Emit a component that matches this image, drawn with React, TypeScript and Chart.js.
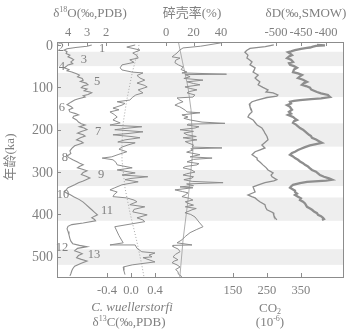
import React, { useEffect, useRef } from 'react';
import { Chart, registerables } from 'chart.js';
Chart.register(...registerables);

// [age ka, benthic δ18O ‰]
const d18O: [number, number][] = [
  [0,2.75],[3,3.0],[6,3.6],[9,4.05],[12,4.2],[16,4.05],[20,4.1],[24,3.9],[28,4.0],[32,3.8],[35,3.7],[40,3.85],[44,3.75],[47,4.0],[51,4.1],[54,4.2],[58,3.95],[61,4.05],[64,3.8],[68,3.55],[71,3.4],[75,3.5],[79,3.25],[83,3.2],[86,3.35],[90,3.05],[94,2.95],[97,3.2],[101,3.3],[104,3.0],[108,3.15],[111,2.85],[113,2.75],[117,2.95],[120,3.2],[123,3.1],[127,3.45],[130,3.65],[135,3.85],[141,4.05],[145,3.85],[149,3.75],[153,3.95],[158,3.9],[162,3.6],[165,3.45],[168,3.7],[172,3.75],[177,3.55],[182,3.45],[186,3.3],[189,3.1],[193,3.4],[196,3.15],[200,3.0],[204,3.3],[208,3.5],[212,3.2],[215,3.1],[219,3.35],[224,3.55],[228,3.3],[231,3.2],[235,3.45],[238,3.65],[244,3.8],[250,3.9],[256,3.85],[262,4.05],[266,3.95],[271,3.75],[276,3.5],[280,3.35],[283,3.2],[287,3.4],[290,3.5],[294,3.2],[297,3.0],[301,3.2],[306,3.3],[310,3.05],[314,2.85],[318,3.05],[321,3.2],[325,3.45],[330,3.65],[334,3.85],[337,4.0],[342,4.1],[346,4.2],[350,4.05],[353,3.9],[358,3.7],[365,3.4],[371,3.2],[377,3.05],[383,2.9],[389,2.75],[395,2.6],[401,2.45],[404,2.6],[408,2.75],[412,2.6],[415,2.55],[420,3.2],[424,3.8],[428,4.0],[434,4.05],[440,4.0],[448,3.95],[457,3.9],[463,3.85],[469,3.75],[473,3.4],[476,3.0],[480,3.5],[486,3.65],[490,3.4],[493,3.25],[497,3.45],[502,3.55],[506,3.3],[510,3.0],[515,3.3],[522,3.65],[528,3.75],[533,3.8],[540,3.85],[545,3.9]
];

// [age ka, C. wuellerstorfi δ13C ‰]
const d13C: [number, number][] = [
  [0,0.07],[5,-0.07],[12,0.15],[19,0.03],[25,0.1],[31,0.12],[35,-0.02],[41,0.05],[47,-0.15],[54,-0.18],[59,-0.15],[64,0.02],[66,0.2],[72,0.1],[78,0.15],[83,0.23],[90,0.1],[95,0.22],[99,0.27],[106,0.12],[113,0.2],[118,0.08],[123,0.03],[130,-0.02],[134,-0.23],[138,-0.1],[142,-0.15],[149,-0.3],[153,-0.2],[158,-0.35],[164,-0.28],[170,-0.23],[177,-0.3],[184,-0.18],[189,-0.35],[193,0.18],[197,-0.1],[200,-0.27],[205,0.2],[209,-0.05],[212,-0.3],[216,0.0],[219,0.15],[224,-0.1],[229,-0.22],[231,0.07],[236,-0.05],[241,-0.15],[246,-0.2],[252,-0.07],[258,-0.2],[264,-0.32],[267,-0.48],[271,-0.3],[277,-0.25],[283,-0.23],[290,0.02],[295,-0.23],[302,0.07],[307,-0.15],[311,0.28],[315,0.0],[318,-0.1],[323,0.12],[330,-0.15],[337,-0.27],[342,-0.35],[347,-0.23],[353,-0.28],[358,-0.3],[361,-0.07],[366,0.05],[370,0.1],[377,-0.02],[382,0.23],[388,0.05],[394,0.03],[401,0.27],[408,0.1],[413,0.2],[417,0.23],[429,-0.27],[450,-0.2],[467,-0.13],[472,-0.35],[472,0.07],[480,0.1],[488,0.18],[491,0.4],[496,0.3],[500,0.35],[502,0.2],[507,0.3],[512,0.4],[519,0.02],[524,-0.13],[532,-0.12],[542,-0.1]
];

// [age ka, δ13C trend]
const d13CTrend: [number, number][] = [
  [-7,0.14],[12,0.12],[66,0.02],[130,-0.07],[184,-0.13],[230,-0.15],[271,-0.15],[337,-0.1],[394,-0.02],[465,0.1],[519,0.18],[550,0.22]
];

// [age ka, fragmentation %]
const frag: [number, number][] = [
  [-5,40],[3,25],[7,12.4],[12,10],[19,8],[24,6],[28,4.4],[31,10.2],[36,7],[42,6.5],[47,9],[52,12.4],[58,11],[64,15.3],[66,11.6],[69,44],[70,14],[73,16],[75,17.5],[79,13],[83,26.9],[87,15.3],[91,20],[94,24.7],[99,13.8],[103,18],[106,22.5],[110,17],[113,15.3],[118,21],[123,19.6],[125,8],[130,10],[134,12.4],[138,9],[142,6.5],[146,10],[149,11.6],[154,14],[158,15.3],[160,24.7],[165,11.6],[170,16],[173,13],[177,17.5],[182,26.2],[185,42.9],[187,16],[189,15.3],[193,24],[196,21.1],[200,10.2],[204,20],[208,13],[212,15.3],[216,22],[219,12.4],[224,22.5],[228,14],[231,16],[236,20],[241,18.9],[243,40.7],[245,18],[248,19.6],[253,15],[259,24.7],[264,17.5],[267,33.5],[270,20],[276,15.3],[280,24],[283,22.5],[287,14],[290,12.4],[294,18],[300,21.1],[304,15],[307,12.4],[311,20],[314,18.9],[318,13],[322,19],[325,41.5],[328,15],[332,20],[335,10.2],[337,19.6],[342,6.5],[346,12],[349,16],[354,14],[358,11.6],[362,17],[366,19.6],[370,14],[373,15.3],[378,20],[382,14],[386,22],[389,18.9],[393,16],[396,13.8],[400,18],[406,21.1],[418,24],[429,26.9],[436,22],[443,17.5],[452,14],[460,11.6],[467,8],[472,18.9],[473,5.1],[476,5.1],[482,9],[488,10.2],[494,7],[500,5.1],[507,8.7],[510,6],[514,4.4],[519,8],[524,10.2],[530,7],[535,8.7],[541,9],[547,11.6]
];

// [age ka, fragmentation trend %]
const fragTrend: [number, number][] = [
  [-7,9],[40,12],[100,16],[153,18.2],[248,19.6],[366,16],[460,12.4],[550,10]
];

// [age ka, CO2 ppmv]
const co2: [number, number][] = [
  [0,270],[4,245],[8,200],[13,190],[17,185],[24,194],[31,191],[36,200],[40,206],[47,200],[54,215],[60,212],[64,209],[71,224],[78,215],[83,222],[87,229],[94,224],[100,238],[106,253],[111,247],[113,268],[118,282],[121,279],[124,250],[130,221],[134,206],[140,198],[146,200],[152,204],[158,206],[164,198],[170,194],[177,209],[183,215],[189,221],[196,235],[202,240],[208,244],[216,250],[224,253],[230,244],[236,235],[243,244],[248,228],[252,215],[259,206],[264,215],[267,221],[271,221],[277,230],[283,238],[290,248],[295,253],[302,268],[307,262],[311,265],[318,279],[321,270],[325,244],[330,225],[335,209],[341,212],[347,215],[354,194],[358,205],[361,215],[366,222],[370,229],[377,244],[383,246],[389,250],[396,268],[402,270],[408,274],[413,279]
];

// [age ka, δD ‰]
const dD: [number, number][] = [
  [0,-418],[1,-402],[2,-420],[4,-426],[6,-432],[7,-438],[9,-450],[12,-462],[15,-470],[17,-476],[20,-472],[24,-468],[27,-474],[31,-478],[35,-470],[40,-466],[43,-474],[47,-472],[50,-464],[54,-458],[58,-464],[64,-466],[67,-456],[71,-448],[74,-452],[78,-456],[82,-446],[87,-438],[90,-444],[94,-448],[97,-440],[101,-432],[105,-430],[108,-424],[111,-418],[114,-410],[118,-396],[121,-394],[123,-392],[126,-410],[128,-430],[130,-452],[132,-464],[134,-472],[138,-470],[142,-478],[146,-472],[150,-470],[153,-468],[158,-474],[162,-470],[165,-476],[170,-466],[174,-462],[177,-458],[180,-464],[184,-466],[188,-460],[192,-456],[196,-452],[200,-446],[204,-442],[208,-438],[212,-434],[215,-430],[219,-428],[223,-420],[227,-414],[231,-408],[234,-420],[237,-432],[241,-442],[245,-450],[248,-456],[252,-462],[255,-468],[259,-472],[263,-466],[267,-462],[271,-456],[275,-452],[279,-446],[283,-442],[287,-436],[291,-432],[295,-428],[299,-420],[303,-416],[307,-412],[311,-404],[315,-394],[318,-388],[320,-400],[323,-438],[326,-452],[330,-466],[334,-470],[337,-472],[341,-466],[344,-462],[347,-462],[351,-458],[354,-462],[358,-456],[362,-450],[366,-452],[370,-446],[374,-442],[378,-440],[382,-438],[386,-432],[389,-428],[393,-424],[397,-418],[401,-416],[404,-410],[408,-406],[411,-404],[413,-408]
];

const ageTicks = [0, 100, 200, 300, 400, 500];
const o18Ticks = [4, 3, 2];
const fragTicks = [0, 20, 40];
const dDTicks = [-500, -450, -400];
const c13Ticks = [-0.4, 0.0, 0.4];
const c13TickText = ['-0.4', '0.0', '0.4'];
const co2Ticks = [150, 250, 350];

// interglacial bands [from ka, to ka]
const bands: [number, number][] = [[16, 50], [66, 123], [185, 240], [295, 333], [360, 415], [482, 519]];
// marine isotope stage labels [text, δ18O, ka]
const stages: [string, number, number][] = [
  ['1', 2.21, 9], ['2', 4.37, 7], ['3', 3.16, 35], ['4', 4.32, 52], ['5', 2.47, 87], ['6', 4.32, 149],
  ['7', 2.42, 205], ['8', 4.16, 267], ['9', 2.26, 307], ['10', 4.26, 354], ['11', 1.95, 392],
  ['12', 4.32, 479], ['13', 2.63, 495]
];

const pts = (arr: [number, number][]) => arr.map(([a, v]) => ({ x: v, y: a }));

export default function App() {
  const ref = useRef<HTMLCanvasElement>(null);
  useEffect(() => {
    document.body.style.margin = '0';
    const canvas = ref.current!;
    const SERIF = '"Liberation Serif", "Noto Sans CJK SC", serif';
    const TXT = '#808080';
    const LINE = '#8e8e8e';

    type Part = { t: string; s: number; dy: number; it?: boolean };
    const rich = (ctx: CanvasRenderingContext2D, parts: Part[], cx: number, cy: number) => {
      let w = 0;
      for (const p of parts) {
        ctx.font = `${p.it ? 'italic ' : ''}${p.s}px ${SERIF}`;
        w += ctx.measureText(p.t).width;
      }
      let x = cx - w / 2;
      ctx.textAlign = 'left';
      ctx.textBaseline = 'middle';
      for (const p of parts) {
        ctx.font = `${p.it ? 'italic ' : ''}${p.s}px ${SERIF}`;
        ctx.fillText(p.t, x, cy + p.dy);
        x += ctx.measureText(p.t).width;
      }
    };

    const deco = {
      id: 'deco',
      beforeDraw(chart: any) {
        const ctx = chart.ctx;
        ctx.save();
        ctx.fillStyle = '#ffffff';
        ctx.fillRect(0, 0, chart.width, chart.height);
        ctx.restore();
      },
      beforeDatasetsDraw(chart: any) {
        const ctx = chart.ctx;
        const a = chart.chartArea;
        const y = chart.scales.y;
        ctx.save();
        ctx.fillStyle = '#eeeeee';
        for (const [b0, b1] of bands) {
          const y0 = y.getPixelForValue(b0);
          const y1 = y.getPixelForValue(b1);
          ctx.fillRect(a.left, y0, a.right - a.left, y1 - y0);
        }
        ctx.restore();
      },
      afterDatasetsDraw(chart: any) {
        const ctx = chart.ctx;
        const a = chart.chartArea;
        const s = chart.scales;
        ctx.save();
        ctx.strokeStyle = '#8c8c8c';
        ctx.lineWidth = 1;
        ctx.strokeRect(a.left + 0.5, a.top + 0.5, a.right - a.left - 1, a.bottom - a.top - 1);
        ctx.beginPath();
        const topTick = (sc: any, vals: number[]) => {
          for (const v of vals) {
            const x = Math.round(sc.getPixelForValue(v)) + 0.5;
            ctx.moveTo(x, a.top); ctx.lineTo(x, a.top + 4);
          }
        };
        const botTick = (sc: any, vals: number[]) => {
          for (const v of vals) {
            const x = Math.round(sc.getPixelForValue(v)) + 0.5;
            ctx.moveTo(x, a.bottom); ctx.lineTo(x, a.bottom - 5);
          }
        };
        topTick(s.x18, o18Ticks); topTick(s.xFrag, fragTicks); topTick(s.xD, dDTicks);
        botTick(s.xC13, c13Ticks); botTick(s.xCO2, co2Ticks);
        for (const v of ageTicks) {
          const yy = Math.round(s.y.getPixelForValue(v)) + 0.5;
          ctx.moveTo(a.left, yy); ctx.lineTo(a.left + 4, yy);
        }
        ctx.stroke();

        ctx.fillStyle = TXT;
        ctx.textBaseline = 'middle';
        // y tick labels
        ctx.font = `14px ${SERIF}`;
        ctx.textAlign = 'right';
        for (const v of ageTicks) ctx.fillText(String(v), 53, s.y.getPixelForValue(v) + 1);
        // top tick labels
        ctx.font = `12.5px ${SERIF}`;
        ctx.textAlign = 'center';
        for (const v of o18Ticks) ctx.fillText(String(v), s.x18.getPixelForValue(v), 33);
        for (const v of fragTicks) ctx.fillText(String(v), s.xFrag.getPixelForValue(v), 33);
        for (const v of dDTicks) ctx.fillText(String(v), s.xD.getPixelForValue(v), 33);
        // bottom tick labels
        c13Ticks.forEach((v, i) => ctx.fillText(c13TickText[i], s.xC13.getPixelForValue(v), 291));
        for (const v of co2Ticks) ctx.fillText(String(v), s.xCO2.getPixelForValue(v), 291);
        // stage labels
        ctx.font = `12.5px ${SERIF}`;
        for (const [t, v, age] of stages) ctx.fillText(t, s.x18.getPixelForValue(v), s.y.getPixelForValue(age));

        // titles
        rich(ctx, [{ t: 'δ', s: 13, dy: 0 }, { t: '18', s: 8, dy: -4 }, { t: 'O(‰,PDB)', s: 13, dy: 0 }], 90, 14);
        ctx.font = `13px ${SERIF}`;
        ctx.textAlign = 'center';
        ctx.fillText('碎壳率(%)', 192, 14);
        ctx.fillText('δD(‰,SMOW)', 306, 14);
        rich(ctx, [{ t: 'C. wuellerstorfi', s: 13, dy: 0, it: true }], 132, 308);
        rich(ctx, [{ t: 'δ', s: 13, dy: 0 }, { t: '13', s: 8, dy: -4 }, { t: 'C(‰,PDB)', s: 13, dy: 0 }], 129, 323);
        rich(ctx, [{ t: 'CO', s: 13, dy: 0 }, { t: '2', s: 8, dy: 3 }], 270, 309);
        rich(ctx, [{ t: '(10', s: 13, dy: 0 }, { t: '-6', s: 8, dy: -4 }, { t: ')', s: 13, dy: 0 }], 270, 323);
        // y title
        ctx.save();
        ctx.translate(11, 157);
        ctx.rotate(-Math.PI / 2);
        ctx.font = `13px ${SERIF}`;
        ctx.textAlign = 'center';
        ctx.fillText('年龄(ka)', 0, 0);
        ctx.restore();
        ctx.restore();
      }
    };

    const line = (data: [number, number][], axis: string, width: number, color: string, dash?: number[]) => ({
      data: pts(data),
      xAxisID: axis,
      yAxisID: 'y',
      showLine: true,
      borderColor: color,
      borderWidth: width,
      borderDash: dash || [],
      pointRadius: 0,
      tension: 0,
      fill: false,
    });

    const hidden = (min: number, max: number, position: string, reverse = false) => ({
      type: 'linear', min, max, position, reverse, display: false,
    });

    const chart = new Chart(canvas, {
      type: 'scatter',
      data: {
        datasets: [
          line(d18O, 'x18', 1.1, LINE),
          line(d13C, 'xC13', 1.0, LINE),
          line(d13CTrend, 'xC13', 1, '#a8a8a8', [1, 2]),
          line(frag, 'xFrag', 1.0, LINE),
          line(fragTrend, 'xFrag', 0.8, '#9a9a9a'),
          line(co2, 'xCO2', 1.3, LINE),
          line(dD, 'xD', 2.3, LINE),
        ] as any,
      },
      options: {
        responsive: false,
        animation: false,
        devicePixelRatio: 1,
        layout: { padding: { left: 57, right: 9, top: 42, bottom: 56 } },
        plugins: { legend: { display: false }, tooltip: { enabled: false } },
        scales: {
          y: { type: 'linear', min: -7, max: 550, reverse: true, display: false },
          x18: hidden(-10.526, 4.579, 'top', true),
          xFrag: hidden(-79.27, 129.45, 'top'),
          xD: hidden(-938, -364, 'top'),
          xC13: hidden(-1.233, 3.55, 'bottom'),
          xCO2: hidden(-367.6, 476.5, 'bottom'),
        } as any,
      },
      plugins: [deco],
    } as any);
    return () => chart.destroy();
  }, []);
  return (
    <div style={{ position: 'absolute', left: 0, top: 0, width: 353, height: 334 }}>
      <canvas ref={ref} width={353} height={334} style={{ display: 'block' }} />
    </div>
  );
}
